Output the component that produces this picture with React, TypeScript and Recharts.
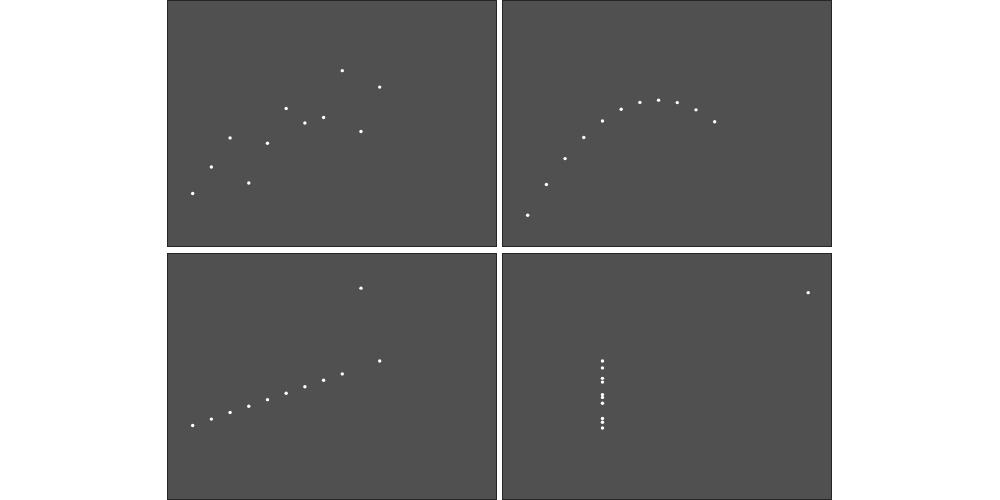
import { ScatterChart, Scatter, XAxis, YAxis } from "recharts";

const xShared = [10, 8, 13, 9, 11, 14, 6, 4, 12, 7, 5];
const yOne = [8.04, 6.95, 7.58, 8.81, 8.33, 9.96, 7.24, 4.26, 10.84, 4.82, 5.68];
const yTwo = [9.14, 8.14, 8.74, 8.77, 9.26, 8.1, 6.13, 3.1, 9.13, 7.26, 4.74];
const yThree = [7.46, 6.77, 12.74, 7.11, 7.81, 8.84, 6.08, 5.39, 8.15, 6.42, 5.73];
const xFour = [8, 8, 8, 8, 8, 8, 8, 19, 8, 8, 8];
const yFour = [6.58, 5.76, 7.71, 8.84, 8.47, 7.04, 5.25, 12.5, 5.56, 7.91, 6.89];

const xDomain = [2.68, 20.22];
const yDomain = [1.45, 14.57];

const toPoints = (xs: number[], ys: number[]) =>
  xs.map((x, i) => ({ x, y: ys[i] }));

const panels = [
  { left: 167, top: 0, data: toPoints(xShared, yOne) },
  { left: 502, top: 0, data: toPoints(xShared, yTwo) },
  { left: 167, top: 253, data: toPoints(xShared, yThree) },
  { left: 502, top: 253, data: toPoints(xFour, yFour) },
];

const Dot = (props: any) => (
  <circle cx={props.cx} cy={props.cy} r={1.7} fill="#ffffff" />
);

export default function App() {
  return (
    <div
      style={{
        position: "absolute",
        left: 0,
        top: 0,
        width: 1000,
        height: 500,
        background: "#ffffff",
      }}
    >
      {panels.map((p, i) => (
        <div
          key={i}
          style={{
            position: "absolute",
            left: p.left,
            top: p.top,
            width: 328,
            height: 245,
            background: "#505050",
            border: "1px solid #262626",
          }}
        >
          <ScatterChart
            width={328}
            height={245}
            margin={{ top: 0, right: 0, bottom: 0, left: 0 }}
          >
            <XAxis
              type="number"
              dataKey="x"
              domain={xDomain}
              allowDataOverflow
              hide
            />
            <YAxis
              type="number"
              dataKey="y"
              domain={yDomain}
              allowDataOverflow
              hide
            />
            <Scatter
              data={p.data}
              shape={Dot}
              isAnimationActive={false}
            />
          </ScatterChart>
        </div>
      ))}
    </div>
  );
}
